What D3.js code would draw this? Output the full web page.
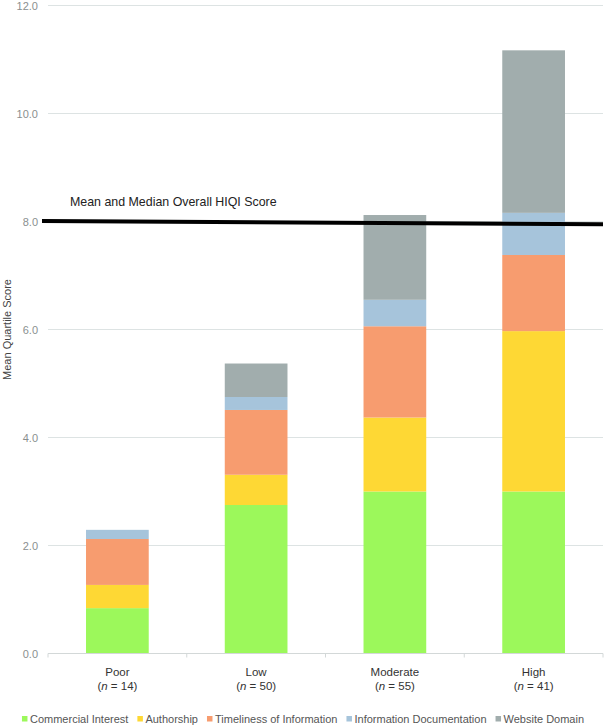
<!DOCTYPE html>
<html>
<head>
<meta charset="utf-8">
<script src="https://cdn.jsdelivr.net/npm/d3@7"></script>
<style>
  html, body { margin: 0; padding: 0; background: #fff; }
  svg { display: block; font-family: "Liberation Sans", Arial, sans-serif; }
</style>
</head>
<body>
<svg id="chart" width="605" height="727"></svg>
<script>
// ---- data ----
const categories = ["Poor", "Low", "Moderate", "High"];
const sampleSizes = [14, 50, 55, 41];
const seriesNames = ["Commercial Interest", "Authorship", "Timeliness of Information", "Information Documentation", "Website Domain"];
const seriesColors = ["#9cf85b", "#fed834", "#f79c6f", "#a6c4db", "#a1adad"];
// segment values
const commercialInterest = [0.84, 2.75, 3.00, 3.00];
const authorship         = [0.43, 0.56, 1.37, 2.97];
const timeliness         = [0.85, 1.20, 1.69, 1.41];
const documentation      = [0.17, 0.24, 0.49, 0.78];
const websiteDomain      = [0.00, 0.62, 1.57, 3.01];
const yTicks = [0, 2, 4, 6, 8, 10, 12];
const overallScore = [8.01, 7.95]; // left end, right end (line drawn slightly tilted)
const overallLabel = "Mean and Median Overall HIQI Score";
const yTitle = "Mean Quartile Score";

const seriesValues = [commercialInterest, authorship, timeliness, documentation, websiteDomain];
const rows = categories.map((c, i) => {
  const r = { cat: c };
  seriesNames.forEach((s, j) => r[s] = seriesValues[j][i]);
  return r;
});

const svg = d3.select("#chart");
const x = d3.scaleBand().domain(categories).range([48, 603]).padding(0);
const y = d3.scaleLinear().domain([0, 12]).range([653.5, 5.5]);
const barW = x.bandwidth() * 0.452;

// gridlines
svg.append("g").selectAll("line").data(yTicks.filter(d => d > 0)).join("line")
  .attr("x1", 48).attr("x2", 603)
  .attr("y1", d => y(d)).attr("y2", d => y(d))
  .attr("stroke", "#dde3e3").attr("stroke-width", 1);

// y tick labels
const yAxis = svg.append("g").attr("transform", "translate(48,0)")
  .call(d3.axisLeft(y).tickValues(yTicks).tickFormat(d3.format(".1f")).tickSize(0).tickPadding(10));
yAxis.select(".domain").remove();
yAxis.selectAll("text").attr("fill", "#8a8f8f").style("font-size", "11px")
  .style("font-family", "'Liberation Sans', Arial, sans-serif");

// y title
svg.append("text")
  .attr("transform", `translate(10.5,${y(6)}) rotate(-90)`)
  .attr("text-anchor", "middle")
  .attr("fill", "#444").style("font-size", "11px")
  .text(yTitle);

// stacked bars
const stack = d3.stack().keys(seriesNames)(rows);
const color = d3.scaleOrdinal().domain(seriesNames).range(seriesColors);
svg.append("g").selectAll("g").data(stack).join("g")
  .attr("fill", d => color(d.key))
  .selectAll("rect").data(d => d).join("rect")
  .attr("x", d => x(d.data.cat) + (x.bandwidth() - barW) / 2)
  .attr("width", barW)
  .attr("y", d => y(d[1]))
  .attr("height", d => Math.max(0, y(d[0]) - y(d[1])));

// x axis
const xAxis = svg.append("g").attr("transform", `translate(0,${y(0)})`);
xAxis.append("line").attr("x1", 48).attr("x2", 603).attr("stroke", "#d3d8d8").attr("stroke-width", 1.2);
const boundaries = categories.map(c => x(c)).concat([x(categories[categories.length - 1]) + x.bandwidth()]);
xAxis.selectAll("line.tk").data(boundaries).join("line").attr("class", "tk")
  .attr("x1", d => d).attr("x2", d => d).attr("y1", 0).attr("y2", 4)
  .attr("stroke", "#d3d8d8");

// category labels
const lab = svg.append("g").selectAll("g").data(categories).join("g")
  .attr("transform", c => `translate(${x(c) + x.bandwidth() / 2},0)`);
lab.append("text").attr("y", 676).attr("text-anchor", "middle")
  .attr("fill", "#333").style("font-size", "11.5px").text(c => c);
const nl = lab.append("text").attr("y", 690).attr("text-anchor", "middle")
  .attr("fill", "#333").style("font-size", "11.5px");
nl.append("tspan").text("(");
nl.append("tspan").style("font-style", "italic").text("n");
nl.append("tspan").text((c, i) => " = " + sampleSizes[i] + ")");

// overall mean/median line
svg.append("line")
  .attr("x1", 42).attr("x2", 603)
  .attr("y1", y(overallScore[0])).attr("y2", y(overallScore[1]))
  .attr("stroke", "#000").attr("stroke-width", 4);
svg.append("text").attr("x", 70).attr("y", 206)
  .attr("fill", "#222").style("font-size", "12.4px").text(overallLabel);

// legend
const leg = svg.append("g");
let cx = 0;
seriesNames.forEach((s, i) => {
  const g = leg.append("g");
  g.append("rect").attr("x", 0).attr("y", -3).attr("width", 5.5).attr("height", 5.5).attr("fill", seriesColors[i]);
  const t = g.append("text").attr("x", 8).attr("y", 4).attr("fill", "#555").style("font-size", "11px").text(s);
  const w = t.node().getComputedTextLength();
  g.attr("transform", `translate(${cx},0)`);
  cx += 8 + w + 9;
});
const total = cx - 9;
leg.attr("transform", `translate(${303 - total / 2},719)`);
</script>
</body>
</html>
